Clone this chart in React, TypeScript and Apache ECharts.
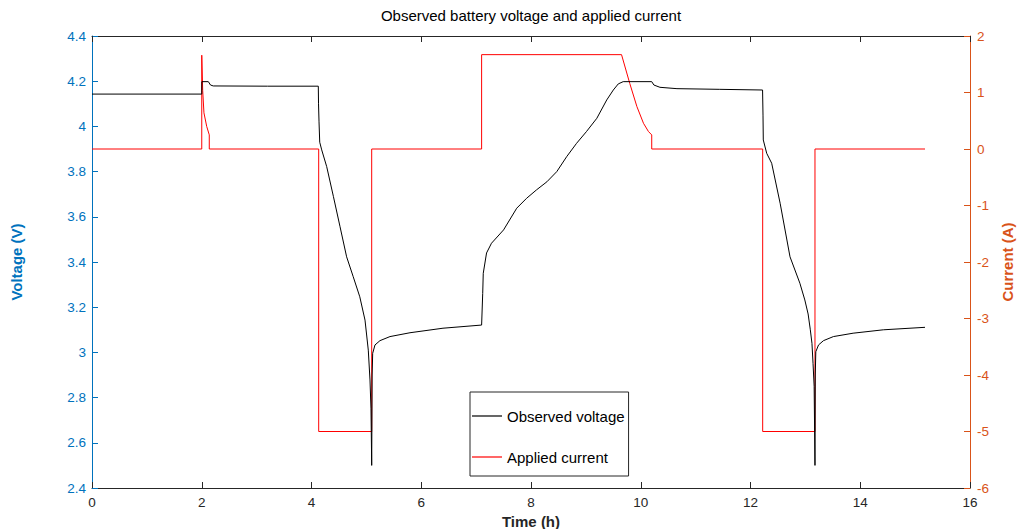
import React, { useEffect, useRef } from "react";
import * as echarts from "echarts";

const voltageTime = [
  0, 2.0, 2.002, 2.12, 2.16, 2.21, 3.2, 4.124, 4.128, 4.137, 4.15, 4.186, 4.277, 4.4, 4.52, 4.64, 4.76,
  4.88, 4.975, 5.035, 5.066, 5.084, 5.097, 5.105, 5.115, 5.157, 5.248, 5.43, 5.795, 6.396, 7.1, 7.12,
  7.13, 7.19, 7.28, 7.5, 7.74, 7.92, 8.1, 8.29, 8.47, 8.65, 8.83, 9.01, 9.2, 9.38, 9.5, 9.59, 9.68,
  10.2, 10.24, 10.35, 10.66, 11.44, 12.22, 12.228, 12.233, 12.295, 12.386, 12.54, 12.72, 12.9, 12.99,
  13.05, 13.09, 13.12, 13.14, 13.16, 13.175, 13.18, 13.19, 13.24, 13.33, 13.51, 13.87, 14.42, 15.18,
];
const voltageValue = [
  4.143, 4.143, 4.198, 4.198, 4.183, 4.179, 4.178, 4.178, 4.1, 4.02, 3.93, 3.896, 3.822, 3.689, 3.556,
  3.423, 3.335, 3.246, 3.143, 3.01, 2.878, 2.75, 2.5, 2.9, 2.996, 3.033, 3.052, 3.07, 3.087, 3.107,
  3.121, 3.261, 3.35, 3.44, 3.483, 3.542, 3.638, 3.682, 3.719, 3.755, 3.8, 3.866, 3.925, 3.977, 4.036,
  4.117, 4.161, 4.188, 4.198, 4.198, 4.183, 4.173, 4.167, 4.164, 4.161, 4.05, 3.94, 3.881, 3.837, 3.66,
  3.423, 3.306, 3.232, 3.17, 3.1, 3.04, 2.95, 2.85, 2.5, 2.9, 3.003, 3.033, 3.052, 3.07, 3.085,
  3.1, 3.111,
];

const currentTime = [
  0, 2.0, 2.0, 2.017, 2.04, 2.09, 2.137, 2.137, 4.131, 4.131, 5.097, 5.097, 7.1, 7.1, 9.65, 9.8, 9.93,
  10.05, 10.14, 10.2, 10.2, 12.222, 12.222, 13.175, 13.175, 15.18,
];
const currentValue = [
  0, 0, 1.66, 1.04, 0.64, 0.4, 0.25, 0, 0, -5, -5, 0, 0, 1.67, 1.67, 1.16, 0.75, 0.455, 0.31, 0.25, 0,
  0, -5, -5, 0, 0,
];

const titleText = "Observed battery voltage and applied current";
const xName = "Time (h)";
const yLeftName = "Voltage (V)";
const yRightName = "Current (A)";
const seriesNames = ["Observed voltage", "Applied current"];

const FONT = "Liberation Sans, Arial, Helvetica, sans-serif";
const BLUE = "#0072BD";
const ORANGE = "#D95319";
const DARK = "#262626";

export default function App() {
  const ref = useRef<HTMLDivElement>(null);
  useEffect(() => {
    if (!ref.current) return;
    const chart = echarts.init(ref.current, undefined, { renderer: "svg" });
    const vData = voltageTime.map((t, i) => [t, voltageValue[i]]);
    const cData = currentTime.map((t, i) => [t, currentValue[i]]);
    const fmt = (v: number) => String(Math.round(v * 10) / 10);
    chart.setOption({
      animation: false,
      backgroundColor: "#fff",
      textStyle: { fontFamily: FONT },
      title: {
        text: titleText,
        left: 526,
        textAlign: "center",
        top: 3,
        textStyle: { fontFamily: FONT, fontSize: 15, fontWeight: "normal", color: "#000" },
      },
      grid: { left: 92, right: 47, top: 36, bottom: 41, containLabel: false, outerBoundsMode: "none" },
      legend: {
        orient: "vertical",
        left: 470,
        top: 392,
        padding: [14, 4, 9, 2],
        itemGap: 21,
        itemWidth: 30,
        itemHeight: 1.2,
        icon: "rect",
        borderColor: DARK,
        borderWidth: 1,
        backgroundColor: "#fff",
        textStyle: { fontFamily: FONT, fontSize: 15, color: "#000", lineHeight: 20 },
        data: seriesNames,
      },
      xAxis: [
        {
          type: "value",
          min: 0,
          max: 16,
          interval: 2,
          position: "bottom",
          name: xName,
          nameLocation: "middle",
          nameGap: 23,
          nameTextStyle: { fontFamily: FONT, fontSize: 15, fontWeight: "bold", color: DARK },
          axisLine: { onZero: false, lineStyle: { color: DARK, width: 1 } },
          axisTick: { inside: true, length: 6, lineStyle: { color: DARK } },
          axisLabel: { fontFamily: FONT, fontSize: 13.5, color: DARK, margin: 7 },
          splitLine: { show: false },
        },
        {
          type: "value",
          min: 0,
          max: 16,
          interval: 2,
          position: "top",
          axisLine: { onZero: false, lineStyle: { color: DARK, width: 1 } },
          axisTick: { inside: true, length: 6, lineStyle: { color: DARK } },
          axisLabel: { show: false },
          splitLine: { show: false },
        },
      ],
      yAxis: [
        {
          type: "value",
          min: 2.4,
          max: 4.4,
          interval: 0.2,
          position: "left",
          name: yLeftName,
          nameLocation: "middle",
          nameRotate: 90,
          nameGap: 68,
          nameTextStyle: { fontFamily: FONT, fontSize: 15, fontWeight: "bold", color: BLUE },
          axisLine: { show: true, onZero: false, lineStyle: { color: BLUE, width: 1 } },
          axisTick: { show: true, inside: true, length: 6, lineStyle: { color: BLUE } },
          axisLabel: { fontFamily: FONT, fontSize: 13.5, color: BLUE, margin: 6, formatter: fmt },
          splitLine: { show: false },
        },
        {
          type: "value",
          min: -6,
          max: 2,
          interval: 1,
          position: "right",
          name: yRightName,
          nameLocation: "middle",
          nameRotate: 90,
          nameGap: 28,
          nameTextStyle: { fontFamily: FONT, fontSize: 15, fontWeight: "bold", color: ORANGE },
          axisLine: { show: true, onZero: false, lineStyle: { color: ORANGE, width: 1 } },
          axisTick: { show: true, inside: true, length: 6, lineStyle: { color: ORANGE } },
          axisLabel: { fontFamily: FONT, fontSize: 13.5, color: ORANGE, margin: 7 },
          splitLine: { show: false },
        },
      ],
      series: [
        {
          name: seriesNames[0],
          type: "line",
          xAxisIndex: 0,
          yAxisIndex: 0,
          data: vData,
          showSymbol: false,
          symbol: "none",
          lineStyle: { color: "#000", width: 1 },
          itemStyle: { color: "#000" },
          z: 3,
        },
        {
          name: seriesNames[1],
          type: "line",
          xAxisIndex: 0,
          yAxisIndex: 1,
          data: cData,
          showSymbol: false,
          symbol: "none",
          lineStyle: { color: "#FF0000", width: 1 },
          itemStyle: { color: "#FF0000" },
          z: 2,
        },
      ],
    });
    return () => chart.dispose();
  }, []);
  return (
    <div
      ref={ref}
      style={{ position: "fixed", left: 0, top: 0, width: 1017, height: 529, background: "#fff" }}
    />
  );
}
